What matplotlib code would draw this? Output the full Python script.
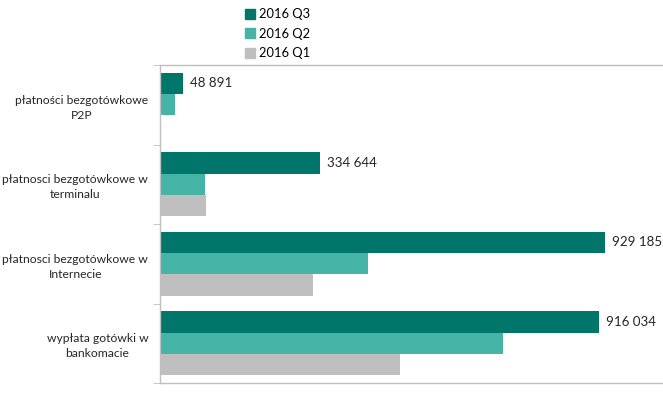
import matplotlib
matplotlib.use("Agg")
import matplotlib.pyplot as plt
from matplotlib.lines import Line2D

plt.rcParams['font.family'] = ['Lato', 'DejaVu Sans']

categories = ["płatności bezgotówkowe\nP2P",
              "płatnosci bezgotówkowe w\nterminalu",
              "płatnosci bezgotówkowe w\nInternecie",
              "wypłata gotówki w\nbankomacie"]
series = ["2016 Q3", "2016 Q2", "2016 Q1"]
q3 = [48891, 334644, 929185, 916034]
q2 = [31300, 93900, 435100, 715800]
q1 = [0, 96000, 319300, 500900]
labels_q3 = ["48 891", "334 644", "929 185", "916 034"]

COLORS = ["#00766A", "#45B3A5", "#BFBFBF"]
SPINE = "#BFBFBF"
TXT = "#262626"

fig = plt.figure(figsize=(6.63, 3.98), dpi=100)
ax = fig.add_axes([160 / 663, 1 - 383 / 398, 1 - 160 / 663, (383 - 65) / 398])

h = 0.27
ys = range(len(categories))
for k, (vals, col) in enumerate(zip([q3, q2, q1], COLORS)):
    ax.barh([y + (k - 1) * h for y in ys], vals, height=h, color=col, linewidth=0)

for y, v, lab in zip(ys, q3, labels_q3):
    ax.text(v + 14500, y - h, lab, va="center", ha="left", fontsize=9.6, color=TXT)

ax.set_ylim(len(categories) - 0.5, -0.5)
ax.set_xlim(0, 1050000)
ax.set_yticks(list(ys))
ax.set_yticklabels(categories, fontsize=8.7, color=TXT, multialignment="center",
                   linespacing=1.45)
ax.set_yticks([i - 0.5 for i in range(len(categories) + 1)], minor=True)
ax.tick_params(axis="y", which="major", length=0, pad=8.5)
ax.tick_params(axis="y", which="minor", length=5, color=SPINE, direction="out")
ax.set_xticks([])
for s in ["top", "bottom", "left"]:
    ax.spines[s].set_color(SPINE)
    ax.spines[s].set_linewidth(1)
ax.spines["right"].set_visible(False)

handles = [Line2D([], [], marker="s", ls="none", markersize=6.5, color=c) for c in COLORS]
fig.legend(handles, series, loc="upper left", bbox_to_anchor=(238 / 663, 1 - 2 / 398),
           frameon=False, fontsize=9.3, handlelength=0.8, handletextpad=0.3,
           labelspacing=0.58, borderpad=0)

fig.savefig("out.png", dpi=100)
